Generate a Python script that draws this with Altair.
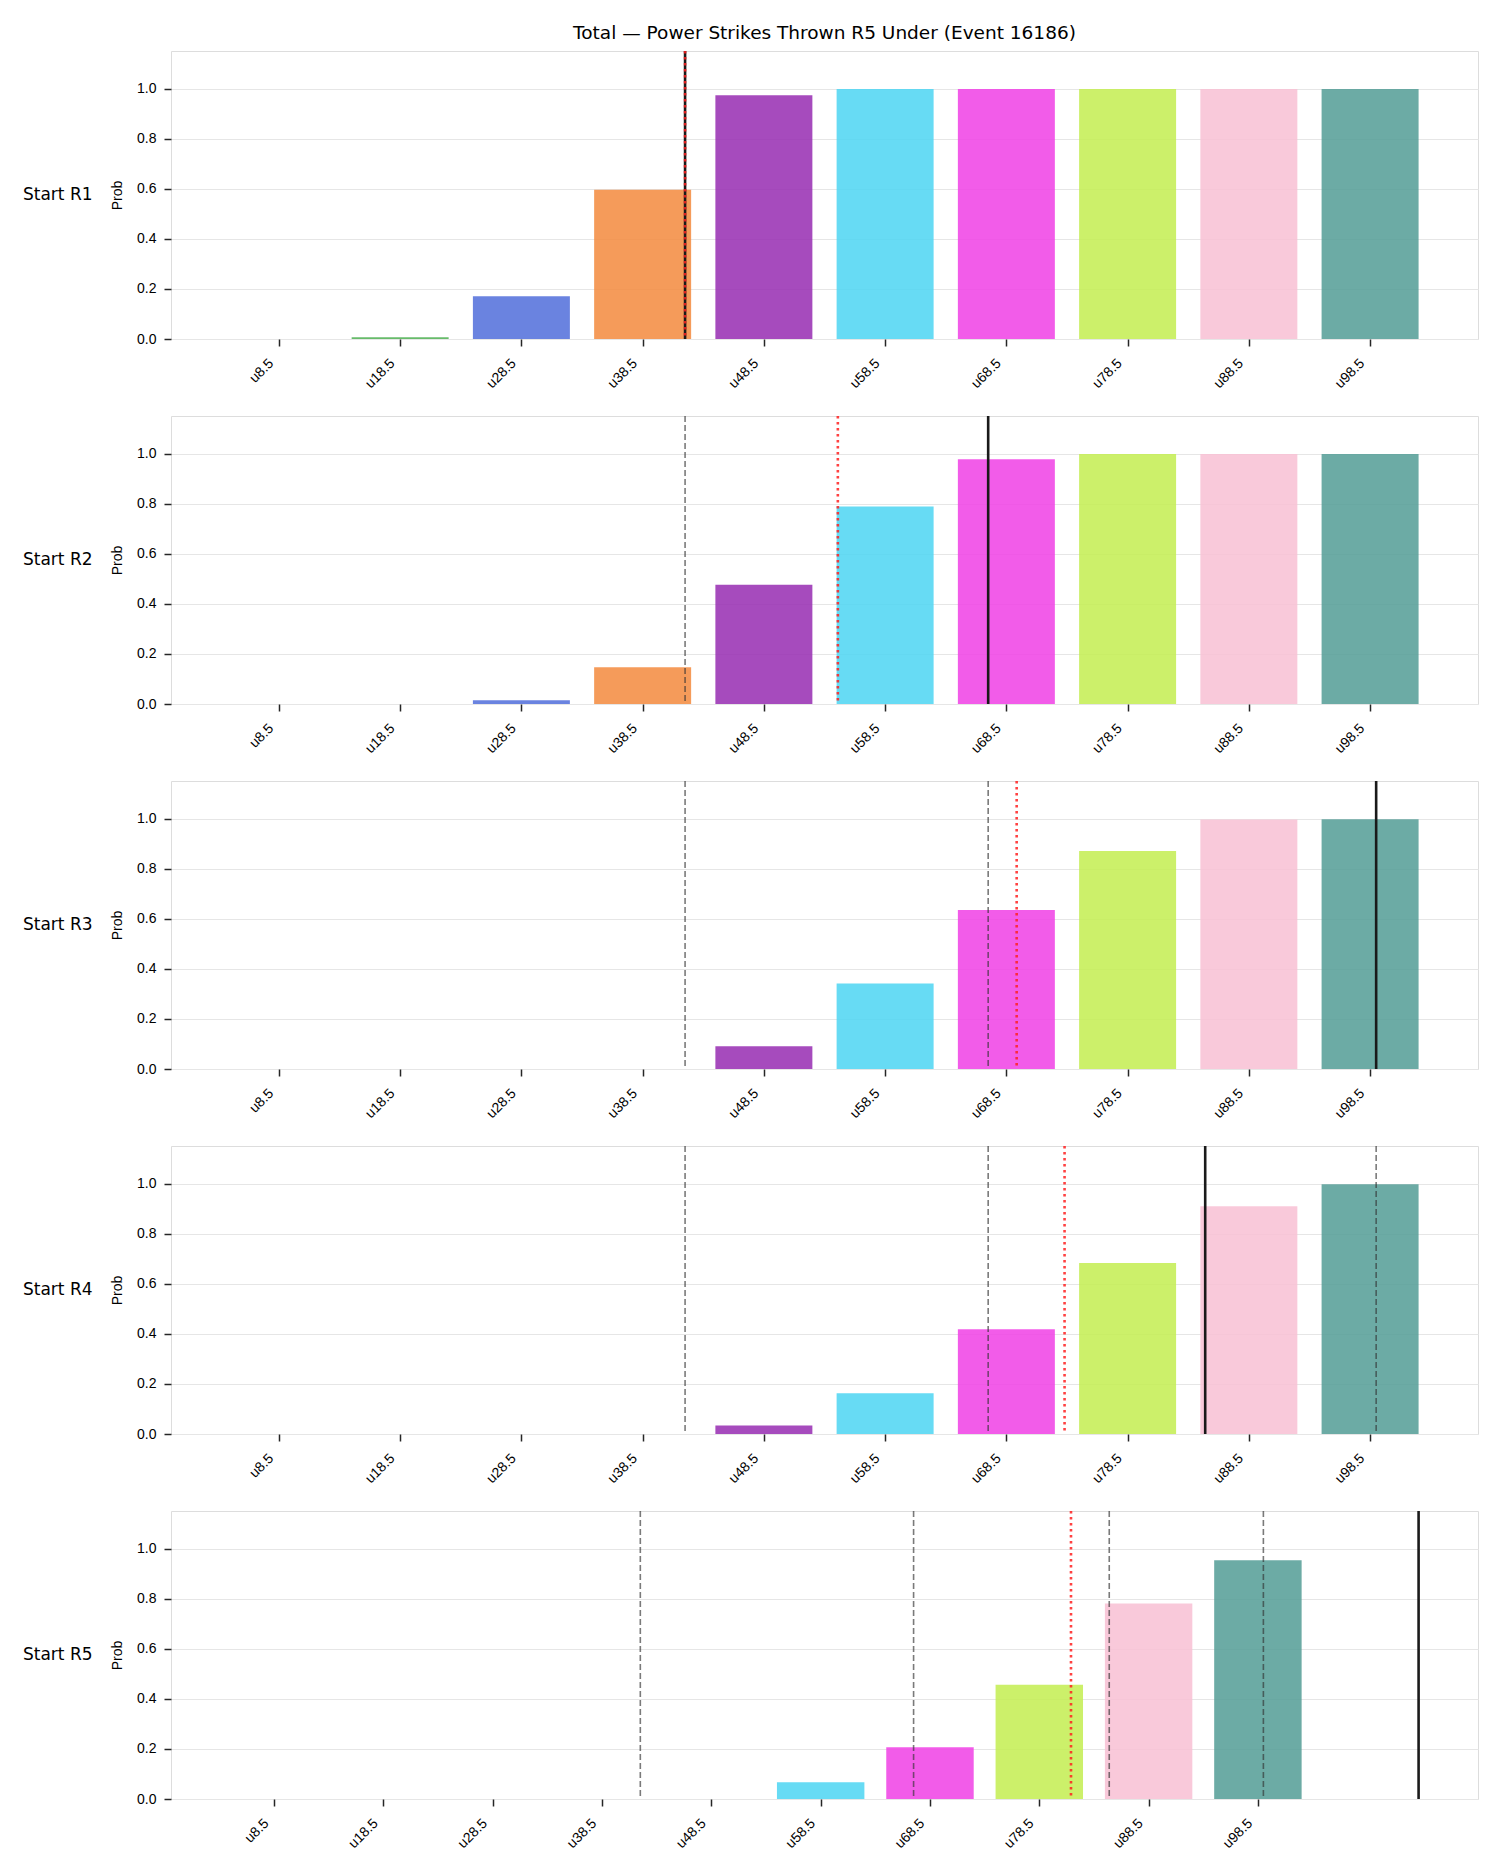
import altair as alt
import pandas as pd

# Threshold categories and per-bar colours
labels = ["u8.5", "u18.5", "u28.5", "u38.5", "u48.5", "u58.5", "u68.5", "u78.5", "u88.5", "u98.5"]
colors = ["#E06666", "#4CAF50", "#506DDA", "#F3893D", "#962CB2",
          "#4CD5F2", "#F03FE5", "#C3ED50", "#F8C0D4", "#529C95"]

# P(under) for each start round
prob_r1 = [0.0, 0.007, 0.171, 0.596, 0.973, 0.998, 0.998, 0.998, 0.998, 0.998]
prob_r2 = [0.0, 0.0, 0.015, 0.147, 0.476, 0.789, 0.977, 0.998, 0.998, 0.998]
prob_r3 = [0.0, 0.0, 0.0, 0.0, 0.091, 0.341, 0.635, 0.870, 0.996, 0.997]
prob_r4 = [0.0, 0.0, 0.0, 0.0, 0.034, 0.163, 0.418, 0.683, 0.909, 0.997]
prob_r5 = [0.0, 0.0, 0.0, 0.0, 0.0, 0.067, 0.207, 0.456, 0.781, 0.953]
probs_by_round = [prob_r1, prob_r2, prob_r3, prob_r4, prob_r5]
round_names = ["Start R1", "Start R2", "Start R3", "Start R4", "Start R5"]

# Marker positions on the category axis (index units)
actual_pos = [3.35, 5.85, 9.05, 7.64, 10.47]     # solid black
expected_pos = [3.35, 4.61, 6.085, 6.48, 7.29]   # red dotted

FONT = "DejaVu Sans"
PANEL_W, PANEL_H = 1307, 288
BAR_HALF = 0.4

label_expr = "[" + ",".join(f"'{s}'" for s in labels) + "][datum.value]"


def panel(k):
    bars_df = pd.DataFrame({"i": list(range(len(labels))), "label": labels,
                            "prob": probs_by_round[k]})
    prior = actual_pos[:k]
    marks = [actual_pos[k], expected_pos[k]] + prior
    lo = min(-BAR_HALF, min(marks))
    hi = max(len(labels) - 1 + BAR_HALF, max(marks))
    pad = 0.05 * (hi - lo)
    xscale = alt.Scale(domain=[lo - pad, hi + pad], nice=False, zero=False)

    xaxis = alt.Axis(values=list(range(len(labels))), labelExpr=label_expr,
                     labelAngle=315, labelAlign="right", labelBaseline="top",
                     labelPadding=10, labelOffset=-13, labelFontSize=14,
                     labelColor="black",
                     tickSize=7, tickWidth=1.5, tickColor="#262626",
                     grid=False, domain=False, title=None)
    yaxis = alt.Axis(values=[0, 0.2, 0.4, 0.6, 0.8, 1.0], format=".1f",
                     title="Prob", titleFontSize=14, titleFontWeight="normal",
                     titleColor="black", titleAngle=270, titleX=-54,
                     titleY=PANEL_H / 2, titleAlign="center", titleBaseline="middle",
                     grid=True, gridColor="#e6e6e6", gridWidth=1,
                     tickSize=7, tickWidth=1.5, tickColor="#262626",
                     labelPadding=8, labelFontSize=14, labelColor="black",
                     domain=False)

    bars = alt.Chart(bars_df).transform_calculate(
        x0=f"datum.i - {BAR_HALF}", x1=f"datum.i + {BAR_HALF}"
    ).mark_bar(opacity=0.85).encode(
        x=alt.X("x0:Q", scale=xscale, axis=xaxis, title=None),
        x2="x1:Q",
        y=alt.Y("prob:Q", scale=alt.Scale(domain=[0, 1.15], nice=False), axis=yaxis),
        y2=alt.datum(0),
        color=alt.Color("label:N", scale=alt.Scale(domain=labels, range=colors), legend=None),
    )
    layers = [bars]
    if prior:
        layers.append(alt.Chart(pd.DataFrame({"pos": prior})).mark_rule(
            color="#333333", opacity=0.65, strokeWidth=1.6, strokeDash=[6, 3]
        ).encode(x=alt.X("pos:Q", title=None)))
    layers.append(alt.Chart(pd.DataFrame({"pos": [actual_pos[k]]})).mark_rule(
        color="#1a1a1a", strokeWidth=2.6
    ).encode(x=alt.X("pos:Q", title=None)))
    layers.append(alt.Chart(pd.DataFrame({"pos": [expected_pos[k]]})).mark_rule(
        color="#ff2020", opacity=0.85, strokeWidth=2.6, strokeDash=[2.5, 3.5]
    ).encode(x=alt.X("pos:Q", title=None)))
    layers.append(alt.Chart(pd.DataFrame({"t": [round_names[k]]})).mark_text(
        align="left", baseline="middle", fontSize=17, font=FONT, color="black"
    ).encode(text="t:N", x=alt.value(-148), y=alt.value(PANEL_H / 2)))
    return alt.layer(*layers).properties(width=PANEL_W, height=PANEL_H)


chart = alt.vconcat(*[panel(k) for k in range(5)], spacing=77, bounds="flush").properties(
    title=alt.TitleParams("Total — Power Strikes Thrown R5 Under (Event 16186)",
                          fontSize=18.5, fontWeight="normal", font=FONT, color="black",
                          anchor="middle", frame="group", offset=7),
    padding={"left": 22, "top": 23, "right": 10, "bottom": 10},
).configure_view(
    stroke="#262626", strokeWidth=1.6
).configure_axis(
    labelFont=FONT, titleFont=FONT
).configure(background="white")

chart.save("out.html", embed_options={"renderer": "svg", "actions": False})
